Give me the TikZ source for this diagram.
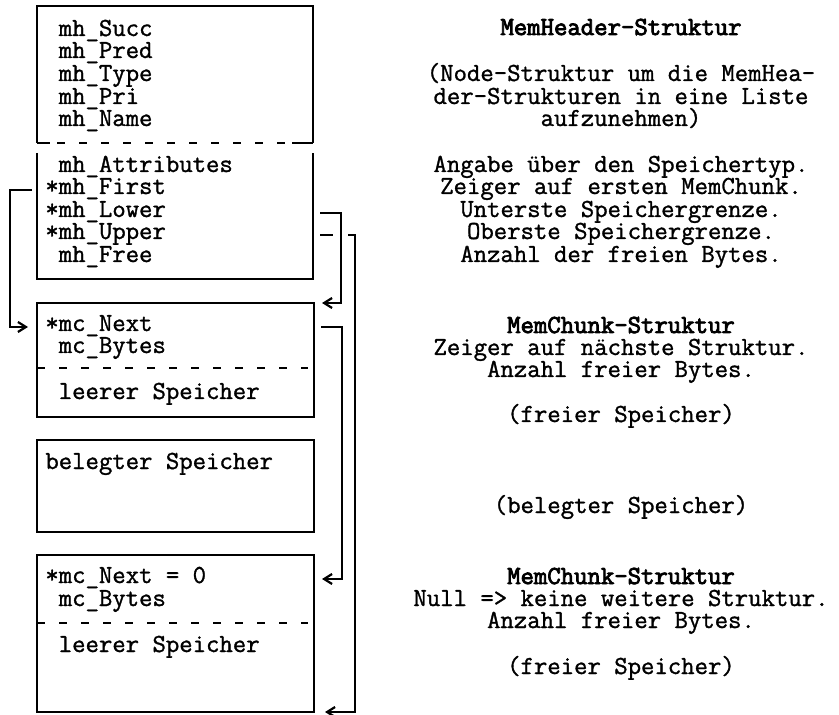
\documentclass[tikz,border=0pt]{standalone}
\usepackage{fontspec}
\setmainfont{Latin Modern Mono}[FakeBold=1.2, BoldFont={Latin Modern Mono}, BoldFeatures={FakeBold=3.2}]
\usetikzlibrary{arrows.meta,calc}
\begin{document}
\begin{tikzpicture}[x=0.5pt,y=-0.5pt,
  font=\fontsize{13pt}{13pt}\selectfont,
  frame/.style={line width=1.1pt},
  sepline/.style={line width=1.1pt, dash pattern=on 4pt off 7pt},
  fld/.style={anchor=base west, inner sep=0pt, text height=6pt, text depth=2pt},
  note/.style={anchor=base, inner sep=0pt},
  head/.style={note, font=\fontsize{13pt}{13pt}\selectfont\bfseries},
  wire/.style={line width=1.1pt},
  link/.style={wire, -{Straight Barb[length=4pt,width=5pt]}}]

\useasboundingbox (0,0) rectangle (839,715);

% reference points on the box outlines
\coordinate (R) at (313,0);
\coordinate (c1NE) at (314,303);
\coordinate (c2SE) at (314,712);

% MemHeader, upper part (node fields)
\draw[frame] (37,143) -- (37,6) -- (313,6) -- (313,143);
\draw[frame] (37,143) -- (50,143);
\draw[sepline] (57,143) -- (288,143);
\draw[frame] (292,143) -- (313,143);
% MemHeader, lower part
\draw[frame] (37,153) -- (37,279) -- (313,279) -- (313,153);
% first free chunk
\draw[frame] (37,303) rectangle (314,417);
\draw[sepline] (37,368) -- (308,368);
% allocated block
\draw[frame] (37,440) rectangle (314,532);
% last free chunk
\draw[frame] (37,555) rectangle (314,712);
\draw[sepline] (37,623) -- (308,623);

% fields of the MemHeader
\node[fld] (fSucc)  at (45,36)  {\phantom{*}mh\_Succ};
\node[fld] (fPred)  at (45,58)  {\phantom{*}mh\_Pred};
\node[fld] (fType)  at (45,81)  {\phantom{*}mh\_Type};
\node[fld] (fPri)   at (45,104) {\phantom{*}mh\_Pri};
\node[fld] (fName)  at (45,126) {\phantom{*}mh\_Name};
\node[fld] (fAttr)  at (45,172) {\phantom{*}mh\_Attributes};
\node[fld] (fFirst) at (45,194) {*mh\_First};
\node[fld] (fLower) at (45,217) {*mh\_Lower};
\node[fld] (fUpper) at (45,239) {*mh\_Upper};
\node[fld] (fFree)  at (45,262) {\phantom{*}mh\_Free};

% fields of the chunks
\node[fld] (fNext1)  at (45,331) {*mc\_Next};
\node[fld] (fBytes1) at (45,353) {\phantom{*}mc\_Bytes};
\node[fld] (fEmpty1) at (45,399) {\phantom{*}leerer Speicher};
\node[fld] (fUsed)   at (45,469) {belegter Speicher};
\node[fld] (fNext2)  at (45,583) {*mc\_Next = 0};
\node[fld] (fBytes2) at (45,606) {\phantom{*}mc\_Bytes};
\node[fld] (fEmpty2) at (45,652) {\phantom{*}leerer Speicher};

% explanations
\node[head] (tHdr)   at (621,35)  {MemHeader-Struktur};
\node[note] (tNode1) at (621,81)  {(Node-Struktur um die MemHea-};
\node[note] (tNode2) at (621,104) {der-Strukturen in eine Liste};
\node[note] (tNode3) at (621,126) {aufzunehmen)};
\node[note] (tAttr)  at (621,172) {Angabe über den Speichertyp.};
\node[note] (tFirst) at (621,194) {Zeiger auf ersten MemChunk.};
\node[note] (tLower) at (621,217) {Unterste Speichergrenze.};
\node[note] (tUpper) at (621,239) {Oberste Speichergrenze.};
\node[note] (tFree)  at (621,262) {Anzahl der freien Bytes.};

\node[head] (tChunk1) at (621,333) {MemChunk-Struktur};
\node[note] (tNext1)  at (621,355) {Zeiger auf nächste Struktur.};
\node[note] (tBytes1) at (621,377) {Anzahl freier Bytes.};
\node[note] (tFree1)  at (621,422) {(freier Speicher)};
\node[note] (tUsed)   at (621,513) {(belegter Speicher)};
\node[head] (tChunk2) at (621,584) {MemChunk-Struktur};
\node[note] (tNext2)  at (621,606) {Null => keine weitere Struktur.};
\node[note] (tBytes2) at (621,628) {Anzahl freier Bytes.};
\node[note] (tFree2)  at (621,674) {(freier Speicher)};

% pointers
\draw[link] ($(fFirst.west)+(-13,0)$) -| ($(fNext1.west)+(-35,0)$)
            -- ($(fNext1.west)+(-17,0)$);
\draw[link] ($(fLower.center -| R)+(7,0)$) -- ++(21,0) |- ($(c1NE)+(8,0)$);
\draw[wire] ($(fUpper.center -| R)+(7,0)$) -- ++(13,0);
\draw[link] ($(fUpper.center -| R)+(35,0)$) -- ++(7,0) |- ($(c2SE)+(11,0)$);
\draw[link] ($(fNext1.center -| R)+(8,0)$) -- ++(21,0) |- ($(fNext2.center -| R)+(9,0)$);
\end{tikzpicture}
\end{document}
